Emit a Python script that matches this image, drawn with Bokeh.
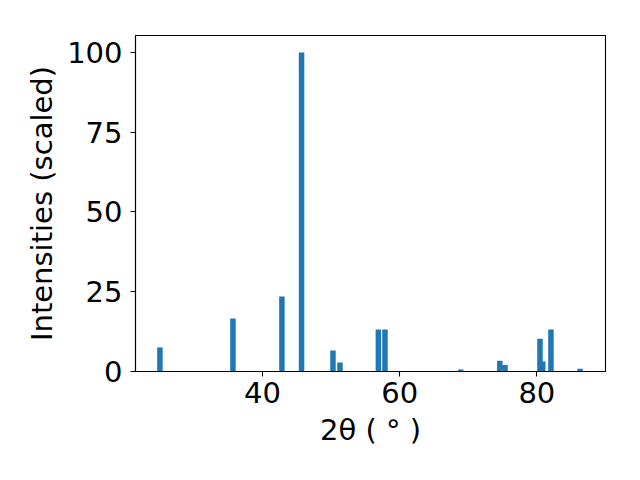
from bokeh.plotting import figure
from bokeh.models import FixedTicker, Range1d
from bokeh.embed import file_html
from bokeh.resources import INLINE

two_theta = [25.06, 35.7, 42.84, 45.7, 50.28, 51.3, 56.9, 57.86, 68.9,
             74.6, 75.35, 80.45, 80.85, 82.05, 86.3]
intensity = [7.5, 16.6, 23.5, 100, 6.6, 2.8, 13.2, 13.2, 0.6,
             3.4, 2.0, 10.3, 3.1, 13.2, 0.9]
x_ticks = [40, 60, 80]
y_ticks = [0, 25, 50, 75, 100]

p = figure(width=632, height=472, output_backend="svg", toolbar_location=None,
           x_range=Range1d(21.5, 90.0), y_range=Range1d(0, 105.3),
           min_border_left=135, min_border_right=27, min_border_top=35,
           min_border_bottom=101)

p.vbar(x=two_theta, top=intensity, width=0.8, bottom=0,
       fill_color="#1f77b4", line_color=None)

p.xgrid.visible = False
p.ygrid.visible = False
p.outline_line_color = "black"
p.outline_line_width = 1.1
p.background_fill_color = "white"
p.border_fill_color = "white"

font = "DejaVu Sans"
for ax in (p.xaxis[0], p.yaxis[0]):
    ax.axis_line_color = "black"
    ax.axis_line_width = 1.1
    ax.major_tick_line_color = "black"
    ax.major_tick_line_width = 1.1
    ax.major_tick_out = 5
    ax.major_tick_in = 0
    ax.minor_tick_line_color = None
    ax.major_label_text_font = font
    ax.major_label_text_font_size = "29px"
    ax.major_label_text_color = "black"
    ax.axis_label_text_font = font
    ax.axis_label_text_font_size = "29px"
    ax.axis_label_text_font_style = "normal"
    ax.axis_label_text_color = "black"

p.xaxis.ticker = FixedTicker(ticks=x_ticks)
p.yaxis.ticker = FixedTicker(ticks=y_ticks)
p.xaxis.axis_label = "2θ ( ° )"
p.yaxis.axis_label = "Intensities (scaled)"
p.xaxis.major_label_standoff = 5
p.yaxis.major_label_standoff = 8
p.xaxis.axis_label_standoff = 7
p.yaxis.axis_label_standoff = 5

open("out.html", "w").write(file_html(p, INLINE))
